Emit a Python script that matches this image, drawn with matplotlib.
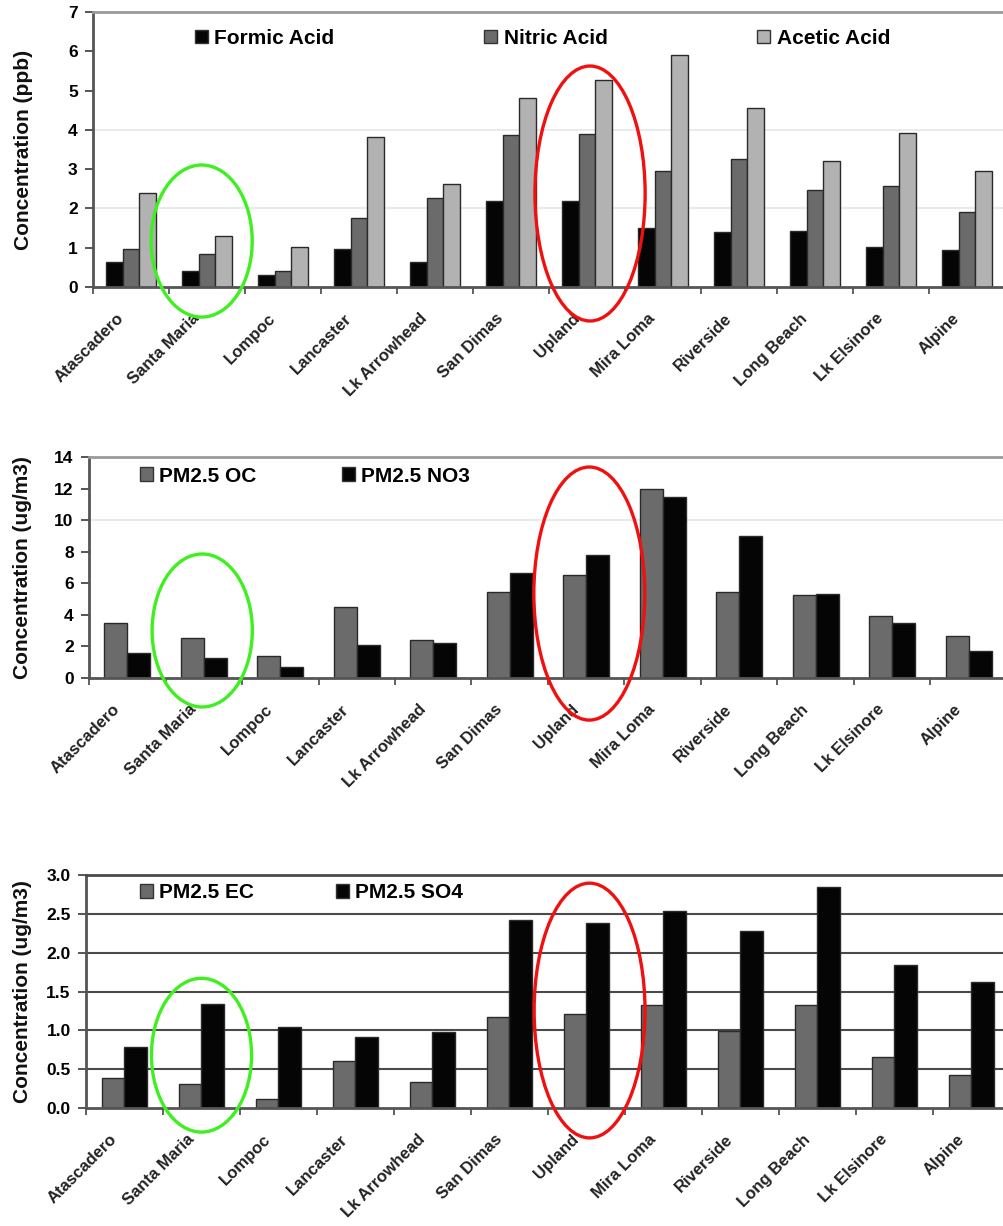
import matplotlib
matplotlib.use("Agg")
import matplotlib.pyplot as plt
import matplotlib.transforms as mtransforms
import numpy as np
from matplotlib.patches import Ellipse, Patch
from matplotlib.ticker import FormatStrFormatter

plt.rcParams['font.family'] = ['Liberation Sans', 'DejaVu Sans']

# ---- data -------------------------------------------------------------
sites = ["Atascadero", "Santa Maria", "Lompoc", "Lancaster", "Lk Arrowhead",
         "San Dimas", "Upland", "Mira Loma", "Riverside", "Long Beach",
         "Lk Elsinore", "Alpine"]

# gas-phase acids (ppb)
formic_acid = [0.64, 0.42, 0.30, 0.97, 0.64, 2.18, 2.18, 1.49, 1.41, 1.43, 1.03, 0.93]
nitric_acid = [0.97, 0.84, 0.41, 1.75, 2.27, 3.87, 3.90, 2.96, 3.25, 2.47, 2.58, 1.90]
acetic_acid = [2.39, 1.29, 1.02, 3.82, 2.62, 4.82, 5.27, 5.90, 4.55, 3.22, 3.92, 2.95]

# PM2.5 organic carbon and nitrate (ug/m3)
pm25_oc = [3.48, 2.53, 1.37, 4.48, 2.43, 5.43, 6.55, 11.97, 5.47, 5.28, 3.90, 2.64]
pm25_no3 = [1.58, 1.25, 0.70, 2.11, 2.22, 6.65, 7.81, 11.47, 8.97, 5.34, 3.48, 1.69]

# PM2.5 elemental carbon and sulfate (ug/m3)
pm25_ec = [0.39, 0.31, 0.12, 0.61, 0.34, 1.17, 1.21, 1.32, 0.99, 1.32, 0.66, 0.42]
pm25_so4 = [0.78, 1.34, 1.04, 0.91, 0.98, 2.42, 2.38, 2.54, 2.28, 2.84, 1.84, 1.62]

# ---- figure -----------------------------------------------------------
W, H = 1004, 1226
fig = plt.figure(figsize=(W / 100, H / 100), dpi=100)

BLACK = "#050505"
DARK = "#6b6b6b"
LIGHT = "#b2b2b2"
EDGE = "#2a2a2a"
AXIS = "#555555"


def add_panel(left, top, right, bottom):
    return fig.add_axes([left / W, 1 - bottom / H, (right - left) / W, (bottom - top) / H])


def style_panel(ax, ymax, ystep, fmt, ylabel, label_x):
    n = len(sites)
    x = np.arange(n)
    ax.set_xlim(-0.5, n - 0.5)
    ax.set_ylim(0, ymax)
    ax.set_yticks(np.arange(0, ymax + ystep / 2, ystep))
    ax.yaxis.set_major_formatter(FormatStrFormatter(fmt))
    ax.set_xticks(x)
    ax.set_xticklabels(sites, rotation=45, ha="right", va="center",
                       rotation_mode="anchor", fontweight="bold",
                       fontsize=12, color="#222222")
    ax.set_xticks(np.arange(-0.5, n, 1.0), minor=True)
    ax.tick_params(axis="x", which="major", length=0, pad=21)
    ax.tick_params(axis="x", which="minor", length=5, width=1.3, color=AXIS)
    ax.tick_params(axis="y", which="major", direction="out", length=6,
                   width=1.4, color=AXIS, pad=5, labelsize=12.5)
    for lab in ax.get_yticklabels():
        lab.set_fontweight("bold")
    shift = mtransforms.ScaledTranslation(-0.10, 0, fig.dpi_scale_trans)
    for lab in ax.get_xticklabels():
        lab.set_transform(lab.get_transform() + shift)
    ax.spines["right"].set_visible(False)
    ax.spines["top"].set_color("#9a9a9a")
    ax.spines["top"].set_linewidth(2)
    ax.spines["left"].set_color(AXIS)
    ax.spines["left"].set_linewidth(2)
    ax.spines["bottom"].set_color(AXIS)
    ax.spines["bottom"].set_linewidth(2)
    ax.set_ylabel(ylabel, fontsize=15, fontweight="bold", color="#111111")
    ax.yaxis.set_label_coords(label_x, 0.5)


def add_legend(ax, colors, names, fx, fy, spacing):
    handles = [Patch(facecolor=c, edgecolor="#333333", linewidth=1) for c in colors]
    ax.legend(handles, names, ncol=len(names), loc="center left",
              bbox_to_anchor=(fx, fy), frameon=False,
              prop=dict(weight="bold", size=15), handlelength=0.62,
              handleheight=0.62, handletextpad=0.3, columnspacing=spacing,
              borderpad=0, borderaxespad=0)


def circle(ax, cx, cy, w, h, color):
    ax.add_patch(Ellipse((cx, cy), w, h, fill=False, edgecolor=color,
                         linewidth=2.4, clip_on=False, zorder=5))


x = np.arange(len(sites))
GREEN = "#3ef020"
RED = "#f01010"

# ---- panel 1: acids ---------------------------------------------------
ax1 = add_panel(93, 12, 1005, 287)
bw = 0.22
for k, (vals, col) in enumerate([(formic_acid, BLACK), (nitric_acid, DARK), (acetic_acid, LIGHT)]):
    ax1.bar(x + (k - 1) * bw, vals, bw, color=col, edgecolor=EDGE, linewidth=1, zorder=2)
for g in [2, 4]:
    ax1.axhline(g, color="#e6e6e6", linewidth=1.2, zorder=0)
style_panel(ax1, 7, 1, "%d", "Concentration (ppb)", -0.066)
add_legend(ax1, [BLACK, DARK, LIGHT], ["Formic Acid", "Nitric Acid", "Acetic Acid"],
           0.112, 0.905, 7.2)
circle(ax1, 0.93, 1.17, 1.33, 3.87, GREEN)
circle(ax1, 6.04, 2.38, 1.45, 6.49, RED)

# ---- panel 2: OC / NO3 ------------------------------------------------
ax2 = add_panel(89, 457, 1007, 678)
bw = 0.30
for k, (vals, col) in enumerate([(pm25_oc, DARK), (pm25_no3, BLACK)]):
    ax2.bar(x + (k - 0.5) * bw, vals, bw, color=col, edgecolor=EDGE, linewidth=1, zorder=2)
ax2.axhline(10, color="#e6e6e6", linewidth=1.2, zorder=0)
style_panel(ax2, 14, 2, "%d", "Concentration (ug/m3)", -0.062)
add_legend(ax2, [DARK, BLACK], ["PM2.5 OC", "PM2.5 NO3"], 0.0556, 0.914, 4.1)
circle(ax2, 0.98, 3.01, 1.31, 9.69, GREEN)
circle(ax2, 6.04, 5.35, 1.45, 16.03, RED)

# ---- panel 3: EC / SO4 ------------------------------------------------
ax3 = add_panel(86, 875, 1010, 1108)
bw = 0.29
for g in np.arange(0.5, 3.0, 0.5):
    ax3.axhline(g, color="#4a4a4a", linewidth=1.5, zorder=0)
for k, (vals, col) in enumerate([(pm25_ec, DARK), (pm25_so4, BLACK)]):
    ax3.bar(x + (k - 0.5) * bw, vals, bw, color=col, edgecolor=EDGE, linewidth=1, zorder=2)
style_panel(ax3, 3.0, 0.5, "%.1f", "Concentration (ug/m3)", -0.058)
ax3.spines["top"].set_color("#4a4a4a")
add_legend(ax3, [DARK, BLACK], ["PM2.5 EC", "PM2.5 SO4"], 0.058, 0.923, 3.95)
circle(ax3, 1.0, 0.68, 1.30, 1.98, GREEN)
circle(ax3, 6.04, 1.255, 1.44, 3.28, RED)

fig.savefig("out.png", dpi=100)
